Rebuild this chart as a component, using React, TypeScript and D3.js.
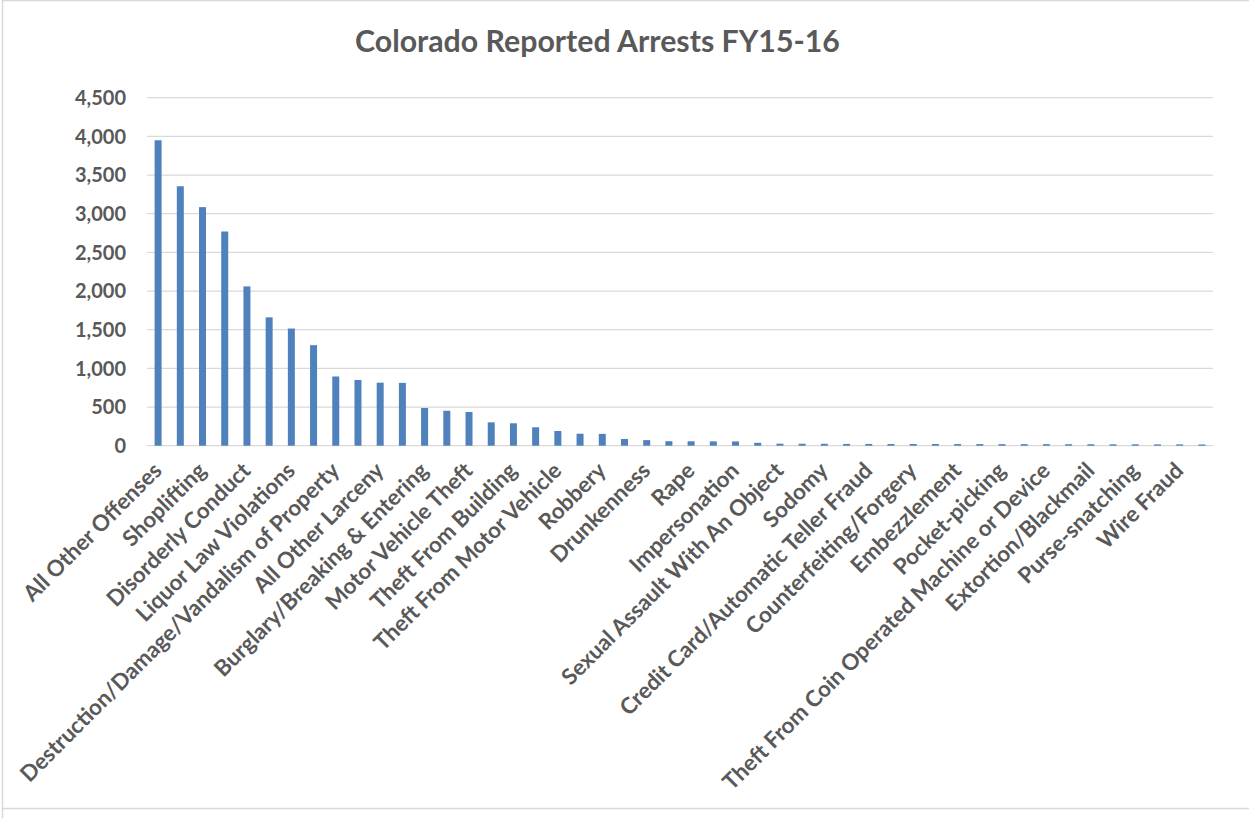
import React from "react";
import * as d3 from "d3";

// Offense categories, ranked by number of arrests
const categories: string[] = [
  "All Other Offenses",
  "Simple Assault",
  "Shoplifting",
  "Drug/Narcotic Violations",
  "Disorderly Conduct",
  "Driving Under the Influence",
  "Liquor Law Violations",
  "Drug Equipment Violations",
  "Destruction/Damage/Vandalism of Property",
  "Aggravated Assault",
  "All Other Larceny",
  "Trespass of Real Property",
  "Burglary/Breaking & Entering",
  "Intimidation",
  "Motor Vehicle Theft",
  "Stolen Property Offenses",
  "Theft From Building",
  "Weapon Law Violations",
  "Theft From Motor Vehicle",
  "False Pretenses/Swindle/Confidence Game",
  "Robbery",
  "Fondling",
  "Drunkenness",
  "Curfew/Loitering/Vagrancy Violations",
  "Rape",
  "Family Offenses, Nonviolent",
  "Impersonation",
  "Theft of Motor Vehicle Parts or Accessories",
  "Sexual Assault With An Object",
  "Arson",
  "Sodomy",
  "Statutory Rape",
  "Credit Card/Automatic Teller Fraud",
  "Kidnapping/Abduction",
  "Counterfeiting/Forgery",
  "Murder and Nonnegligent Manslaughter",
  "Embezzlement",
  "Pornography/Obscene Material",
  "Pocket-picking",
  "Prostitution",
  "Theft From Coin Operated Machine or Device",
  "Identity Theft",
  "Extortion/Blackmail",
  "Incest",
  "Purse-snatching",
  "Welfare Fraud",
  "Wire Fraud",
  "Hacking/Computer Invasion",
];

// Reported arrests per category
const arrests: number[] = [
  3950, 3355, 3085, 2770, 2060, 1660, 1515, 1300, 895, 850, 815, 812, 488, 452,
  436, 302, 290, 238, 190, 155, 153, 87, 72, 58, 57, 56, 55, 37, 26, 25, 25, 23,
  23, 22, 22, 22, 21, 21, 20, 20, 20, 19, 19, 18, 18, 17, 17, 16,
];

const yTicks: number[] = [0, 500, 1000, 1500, 2000, 2500, 3000, 3500, 4000, 4500];

const title = "Colorado Reported Arrests FY15-16";

const W = 1249;
const H = 818;
const plot = { left: 147, right: 1213, top: 97.7, bottom: 445.7 };
const textColor = "#595959";
const gridColor = "#d9d9d9";
const barColor = "#4f81bd";
const font = "Lato, 'Open Sans', sans-serif";

export default function App() {
  const x = d3
    .scaleBand<string>()
    .domain(categories)
    .range([plot.left, plot.right])
    .paddingInner(0.685)
    .paddingOuter(0.3425);

  const y = d3
    .scaleLinear()
    .domain([0, 4500])
    .range([plot.bottom, plot.top]);

  const fmt = d3.format(",");

  return (
    <svg
      width={W}
      height={H}
      style={{ position: "absolute", left: 0, top: 0, background: "#fff" }}
      fontFamily={font}
    >
      <rect x={0} y={0} width={W} height={H} fill="#fff" />
      {/* chart frame */}
      <path
        d={`M2.5,${H + 5} V0.5 H${W + 5} M2.5,808.5 H${W + 5}`}
        fill="none"
        stroke={gridColor}
        strokeWidth={1.5}
      />

      <text
        x={597.5}
        y={52}
        textAnchor="middle"
        fontSize={30.3}
        fontWeight={700}
        fill={textColor}
      >
        {title}
      </text>

      {/* horizontal gridlines */}
      {yTicks.map((t) => (
        <line
          key={`g${t}`}
          x1={plot.left}
          x2={plot.right}
          y1={y(t)}
          y2={y(t)}
          stroke={gridColor}
          strokeWidth={1.3}
        />
      ))}

      {/* y tick labels */}
      {yTicks.map((t) => (
        <text
          key={`t${t}`}
          x={126}
          y={y(t)}
          dy="0.36em"
          textAnchor="end"
          fontSize={20}
          fontWeight={700}
          fill={textColor}
        >
          {fmt(t)}
        </text>
      ))}

      {/* bars */}
      {categories.map((c, i) => (
        <rect
          key={`b${i}`}
          x={x(c)}
          y={y(arrests[i])}
          width={x.bandwidth()}
          height={y(0) - y(arrests[i])}
          fill={barColor}
        />
      ))}

      {/* category labels, every second one */}
      {categories.map((c, i) => {
        if (i % 2 !== 0) return null;
        const cx = (x(c) as number) + x.bandwidth() / 2;
        return (
          <text
            key={`c${i}`}
            transform={`translate(${cx + 5},${472}) rotate(-45)`}
            textAnchor="end"
            fontSize={22.3}
            fontWeight={700}
            fill={textColor}
          >
            {c}
          </text>
        );
      })}
    </svg>
  );
}
